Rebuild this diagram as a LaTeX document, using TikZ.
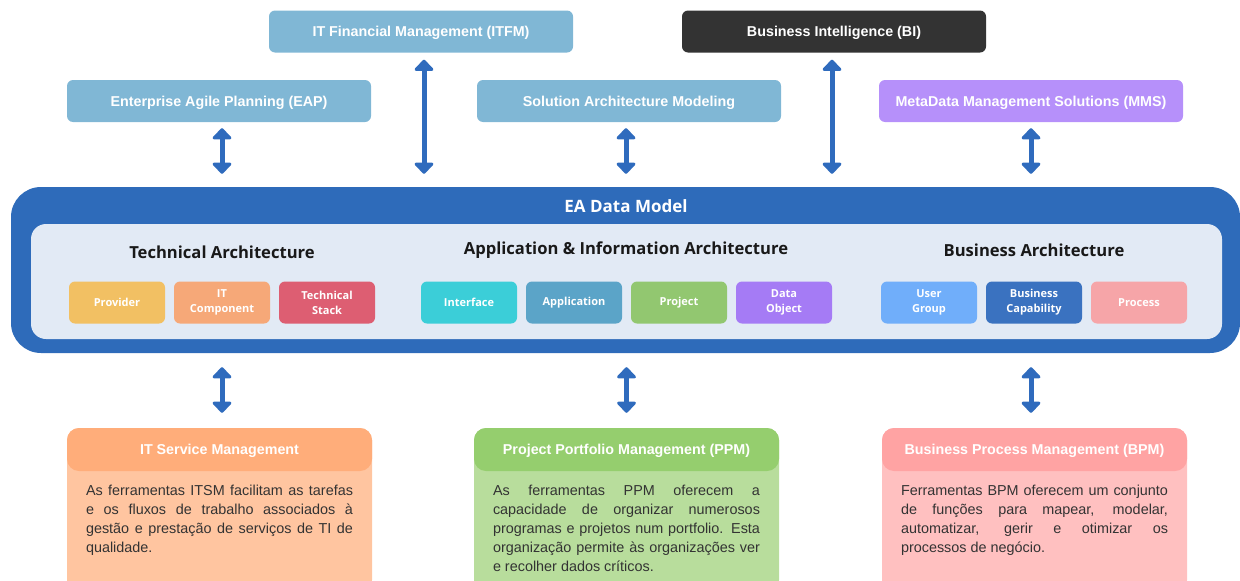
\documentclass[tikz,border=0pt]{standalone}
\usepackage{fontspec}
\setmainfont{Liberation Sans}
\newfontfamily\headfont{Open Sans}
\usetikzlibrary{arrows.meta,positioning}
\definecolor{toolblue}{HTML}{80B7D5}
\definecolor{bidark}{HTML}{333333}
\definecolor{mmspurple}{HTML}{B690FA}
\definecolor{arrowblue}{HTML}{2F6BBD}
\definecolor{modelblue}{HTML}{2E6BBA}
\definecolor{innerbg}{HTML}{E2EAF5}
\definecolor{provcol}{HTML}{F2C063}
\definecolor{itccol}{HTML}{F6A878}
\definecolor{stackcol}{HTML}{DD5E72}
\definecolor{ifacecol}{HTML}{3BCED8}
\definecolor{appcol}{HTML}{5BA4C8}
\definecolor{projcol}{HTML}{92C770}
\definecolor{dobjcol}{HTML}{A57BF5}
\definecolor{ugcol}{HTML}{70AEFA}
\definecolor{capcol}{HTML}{3A72C0}
\definecolor{proccol}{HTML}{F6A5A8}
\definecolor{itsmhead}{HTML}{FFAD7A}
\definecolor{itsmbody}{HTML}{FFC5A0}
\definecolor{ppmhead}{HTML}{95CE6E}
\definecolor{ppmbody}{HTML}{B8DD9C}
\definecolor{bpmhead}{HTML}{FFA3A3}
\definecolor{bpmbody}{HTML}{FFC0C0}
\definecolor{textgray}{HTML}{333333}
\begin{document}
\begin{tikzpicture}[x=1pt,y=-1pt]
        % Styles
        \tikzstyle{tool}=[rounded corners=6pt,minimum width=304pt,minimum height=42pt,text height=10.5pt,text depth=0pt,text=white,font=\fontsize{14.3}{16}\selectfont\bfseries]
        \tikzstyle{link}=[{Triangle[width=22pt,length=12pt,round]}-{Triangle[width=22pt,length=12pt,round]},line width=5pt,draw=arrowblue]
        \tikzstyle{item}=[rounded corners=6pt,minimum width=96pt,minimum height=42pt,text=white,align=center,font=\headfont\fontsize{11}{15}\selectfont\bfseries]
        \tikzstyle{section}=[text=black!90,font=\headfont\fontsize{16.6}{20}\selectfont\bfseries]
        \tikzstyle{panel}=[rounded corners=12pt,minimum width=305pt,minimum height=164pt]
        \tikzstyle{panel head}=[rounded corners=12pt,minimum width=305pt,minimum height=43pt,text height=10.5pt,text depth=0pt,text=white,font=\fontsize{14.3}{16}\selectfont\bfseries]
        \tikzstyle{panel text}=[text width=267pt,align=justify,inner sep=0pt,text=textgray,font=\fontsize{14.4}{19}\selectfont]
        \useasboundingbox (0,0) rectangle (1240,581);
        \clip (0,0) rectangle (1240,581);
        %tools on top
        \node[tool,fill=toolblue] (itfm) at (421,31.5) {IT Financial Management (ITFM)};
        \node[tool,fill=bidark] (bi) at (834,31.5) {Business Intelligence (BI)};
        \node[tool,fill=toolblue] (eap) at (219,101) {Enterprise Agile Planning (EAP)};
        \node[tool,fill=toolblue] (sam) at (629,101) {Solution Architecture Modeling};
        \node[tool,fill=mmspurple] (mms) at (1031,101) {MetaData Management Solutions (MMS)};
        %data model
        \node[rounded corners=30pt,fill=modelblue,minimum width=1229pt,minimum height=166pt] (model) at (625.5,270) {};
        \node[text=white,font=\headfont\fontsize{17}{20}\selectfont\bfseries] (modeltitle) at (626,206) {EA Data Model};
        \node[rounded corners=15pt,fill=innerbg,minimum width=1191pt,minimum height=115pt] (inner) at (626.5,281.5) {};
        \node[section] (tech) at (222,252) {Technical Architecture};
        \node[section] (appinfo) at (626,250) {Application \& Information Architecture};
        \node[section] (business) at (1034,250) {Business Architecture};
        \foreach \name/\txt/\col/\xc in {prov/Provider/provcol/117, itc/{IT\\Component}/itccol/222, stack/{Technical\\Stack}/stackcol/327,
            iface/Interface/ifacecol/469, app/Application/appcol/574, proj/Project/projcol/679, dobj/{Data\\Object}/dobjcol/784,
            ug/{User\\Group}/ugcol/929, cap/{Business\\Capability}/capcol/1034, proc/Process/proccol/1139}
            \node[item,fill=\col] (\name) at (\xc,302.5) {\txt};
        %tools below
        \node[panel,fill=itsmbody] (itsm) at (219.5,510) {};
        \node[panel head,fill=itsmhead,anchor=north] (itsmhead) at (itsm.north) {IT Service Management};
        \node[panel text,anchor=north] (itsmtext) at ([yshift=-13.5pt]itsmhead.south) {As ferramentas ITSM facilitam as tarefas\linebreak e os fluxos de trabalho associados à\linebreak gestão e prestação de serviços de TI de\linebreak qualidade.};
        \node[panel,fill=ppmbody] (ppm) at (626.5,510) {};
        \node[panel head,fill=ppmhead,anchor=north] (ppmhead) at (ppm.north) {Project Portfolio Management (PPM)};
        \node[panel text,anchor=north] (ppmtext) at ([yshift=-13.5pt]ppmhead.south) {As ferramentas PPM oferecem a\linebreak capacidade de organizar numerosos\linebreak programas e projetos num portfolio. Esta\linebreak organização permite às organizações ver\linebreak e recolher dados críticos.};
        \node[panel,fill=bpmbody] (bpm) at (1034.5,510) {};
        \node[panel head,fill=bpmhead,anchor=north] (bpmhead) at (bpm.north) {Business Process Management (BPM)};
        \node[panel text,anchor=north] (bpmtext) at ([yshift=-13.5pt]bpmhead.south) {Ferramentas BPM oferecem um conjunto\linebreak de funções para mapear, modelar,\linebreak automatizar, gerir e otimizar os\linebreak processos de negócio.};
        %links
        \draw[link,shorten <=6pt,shorten >=13pt] ([xshift=3pt]eap.south) -- ([xshift=3pt]eap.south |- model.north);
        \draw[link,shorten <=7pt,shorten >=13pt] ([xshift=3pt]itfm.south) -- ([xshift=3pt]itfm.south |- model.north);
        \draw[link,shorten <=6pt,shorten >=13pt] ([xshift=-3pt]sam.south) -- ([xshift=-3pt]sam.south |- model.north);
        \draw[link,shorten <=7pt,shorten >=13pt] ([xshift=-2pt]bi.south) -- ([xshift=-2pt]bi.south |- model.north);
        \draw[link,shorten <=6pt,shorten >=13pt] (mms.south) -- (mms.south |- model.north);
        \draw[link,shorten <=14pt,shorten >=15pt] ([xshift=2.5pt]itsm.north |- model.south) -- ([xshift=2.5pt]itsm.north);
        \draw[link,shorten <=14pt,shorten >=15pt] (ppm.north |- model.south) -- (ppm.north);
        \draw[link,shorten <=14pt,shorten >=15pt] ([xshift=-3.5pt]bpm.north |- model.south) -- ([xshift=-3.5pt]bpm.north);
\end{tikzpicture}
\end{document}
